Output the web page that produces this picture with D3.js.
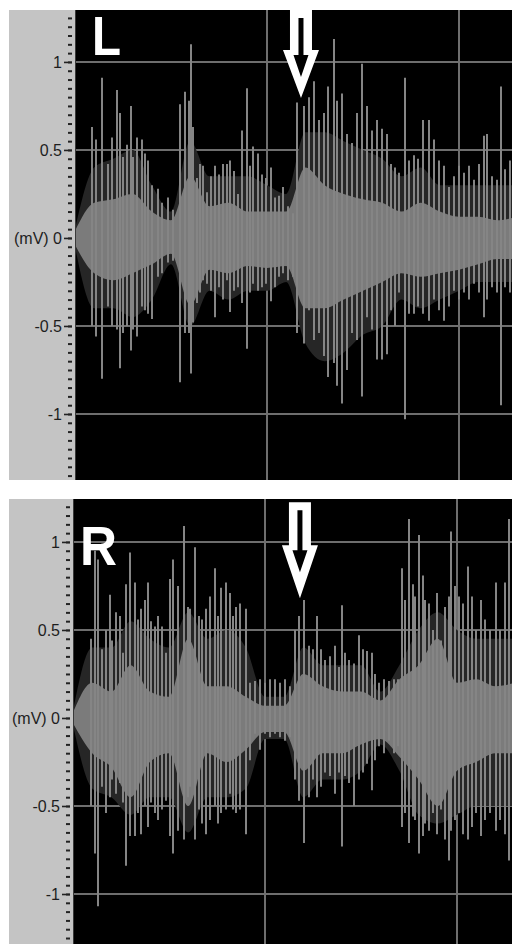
<!DOCTYPE html>
<html>
<head>
<meta charset="utf-8">
<script src="https://cdn.jsdelivr.net/npm/d3@7"></script>
<style>
  html, body { margin: 0; padding: 0; background: #fff; }
  svg { display: block; }
  .tick text { font-family: "Liberation Sans", Arial, sans-serif; font-size: 16px; fill: #1e1e1e; }
</style>
</head>
<body>
<svg width="512" height="944"></svg>
<script>
// ---- tick labels / grid ----
var majorTicks = [-1, -0.5, 0, 0.5, 1];
var gridTimes = [1, 2];
var channelLabels = ["L", "R"];

// envelope sample times (s)
var envTimes = [0, 0.1, 0.2, 0.3, 0.4, 0.5, 0.6, 0.7, 0.8, 0.9, 1.0, 1.1,
  1.2, 1.3, 1.4, 1.5, 1.6, 1.7, 1.8, 1.9, 2.0, 2.1, 2.2, 2.3];

// ---- L channel (mV) ----
var lCoreUp = [0.04, 0.2, 0.22, 0.25, 0.15, 0.1, 0.35, 0.18, 0.2, 0.15, 0.15, 0.15,
  0.4, 0.3, 0.25, 0.22, 0.2, 0.15, 0.2, 0.15, 0.12, 0.12, 0.1, 0.12];
var lCoreLo = [-0.04, -0.2, -0.24, -0.2, -0.15, -0.09, -0.38, -0.18, -0.2, -0.16, -0.17, -0.16,
  -0.4, -0.4, -0.35, -0.3, -0.25, -0.2, -0.22, -0.2, -0.18, -0.15, -0.12, -0.12];
var lOuterUp = [0.05, 0.4, 0.45, 0.5, 0.3, 0.15, 0.55, 0.35, 0.35, 0.35, 0.3, 0.25,
  0.6, 0.6, 0.55, 0.5, 0.45, 0.35, 0.4, 0.3, 0.3, 0.3, 0.3, 0.3];
var lOuterLo = [-0.05, -0.4, -0.4, -0.45, -0.35, -0.15, -0.5, -0.3, -0.35, -0.3, -0.3, -0.25,
  -0.6, -0.7, -0.65, -0.55, -0.5, -0.35, -0.4, -0.35, -0.3, -0.25, -0.25, -0.25];

var lSpikeT = [0.087, 0.108, 0.139, 0.174, 0.191, 0.217, 0.234, 0.252, 0.269, 0.290,
  0.304, 0.321, 0.347, 0.365, 0.382, 0.403, 0.431, 0.455, 0.486, 0.512,
  0.549, 0.573, 0.594, 0.602, 0.616, 0.634, 0.651, 0.668, 0.686, 0.708,
  0.729, 0.750, 0.773, 0.790, 0.807, 0.830, 0.851, 0.872, 0.894, 0.911,
  0.929, 0.951, 0.972, 0.993, 1.021, 1.042, 1.063, 1.085, 1.111, 1.137,
  1.156, 1.191, 1.217, 1.243, 1.269, 1.295, 1.318, 1.347, 1.365, 1.391,
  1.417, 1.443, 1.469, 1.495, 1.521, 1.547, 1.573, 1.599, 1.625, 1.648,
  1.668, 1.686, 1.717, 1.738, 1.764, 1.787, 1.811, 1.842, 1.868, 1.894,
  1.920, 1.946, 1.972, 1.998, 2.024, 2.050, 2.076, 2.102, 2.129, 2.146,
  2.172, 2.198, 2.221, 2.241, 2.267];
var lSpikeUp = [0.63, 0.56, 0.91, 0.42, 0.57, 0.84, 0.71, 0.46, 0.53, 0.75,
  0.46, 0.57, 0.56, 0.48, 0.44, 0.30, 0.28, 0.20, 0.23, 0.16,
  0.76, 0.83, 0.78, 1.10, 0.63, 0.34, 0.42, 0.41, 0.26, 0.35,
  0.41, 0.36, 0.42, 0.42, 0.44, 0.38, 0.25, 0.61, 0.85, 0.41,
  0.52, 0.48, 0.36, 0.34, 0.40, 0.23, 0.24, 0.29, 0.18, 0.14,
  0.77, 0.75, 0.80, 0.89, 0.67, 0.71, 0.86, 1.13, 0.78, 0.82,
  0.59, 0.54, 0.71, 0.99, 0.75, 0.61, 0.67, 0.62, 0.59, 0.42,
  0.40, 0.37, 0.91, 0.44, 0.47, 0.45, 0.67, 0.67, 0.56, 0.44,
  0.41, 0.29, 0.35, 0.41, 0.37, 0.41, 0.33, 0.42, 0.58, 0.59,
  0.35, 0.33, 0.86, 0.39, 0.44];
var lSpikeLo = [-0.50, -0.56, -0.80, -0.39, -0.50, -0.52, -0.74, -0.54, -0.50, -0.64,
  -0.52, -0.56, -0.39, -0.41, -0.43, -0.46, -0.22, -0.20, -0.14, -0.13,
  -0.82, -0.54, -0.54, -0.77, -0.48, -0.37, -0.31, -0.24, -0.26, -0.30,
  -0.45, -0.28, -0.35, -0.24, -0.42, -0.30, -0.28, -0.37, -0.63, -0.31,
  -0.26, -0.30, -0.28, -0.26, -0.36, -0.28, -0.22, -0.20, -0.24, -0.22,
  -0.54, -0.60, -0.41, -0.58, -0.54, -0.67, -0.79, -0.71, -0.84, -0.94,
  -0.75, -0.54, -0.58, -0.90, -0.45, -0.52, -0.69, -0.69, -0.66, -0.41,
  -0.50, -0.31, -1.03, -0.43, -0.43, -0.39, -0.43, -0.47, -0.35, -0.41,
  -0.47, -0.39, -0.30, -0.35, -0.31, -0.35, -0.26, -0.31, -0.45, -0.35,
  -0.28, -0.31, -0.95, -0.28, -0.31];

// ---- R channel (mV) ----
var rCoreUp = [0.03, 0.2, 0.15, 0.3, 0.15, 0.12, 0.45, 0.18, 0.18, 0.12, 0.07, 0.07,
  0.25, 0.18, 0.15, 0.15, 0.1, 0.22, 0.3, 0.45, 0.2, 0.22, 0.18, 0.2];
var rCoreLo = [-0.03, -0.2, -0.28, -0.45, -0.25, -0.2, -0.5, -0.2, -0.25, -0.18, -0.08, -0.08,
  -0.3, -0.2, -0.2, -0.15, -0.12, -0.22, -0.35, -0.5, -0.3, -0.25, -0.2, -0.2];
var rOuterUp = [0.04, 0.4, 0.4, 0.55, 0.45, 0.4, 0.6, 0.45, 0.5, 0.4, 0.12, 0.12,
  0.4, 0.3, 0.3, 0.3, 0.15, 0.3, 0.5, 0.6, 0.5, 0.45, 0.45, 0.45];
var rOuterLo = [-0.04, -0.4, -0.45, -0.55, -0.45, -0.45, -0.65, -0.45, -0.45, -0.4, -0.12, -0.12,
  -0.45, -0.35, -0.35, -0.3, -0.15, -0.3, -0.55, -0.6, -0.55, -0.5, -0.5, -0.5];

var rSpikeT = [0.095, 0.113, 0.130, 0.153, 0.174, 0.191, 0.205, 0.222, 0.243, 0.260,
  0.278, 0.299, 0.321, 0.339, 0.356, 0.373, 0.391, 0.408, 0.425, 0.443,
  0.465, 0.486, 0.503, 0.521, 0.547, 0.576, 0.599, 0.611, 0.634, 0.656,
  0.674, 0.691, 0.712, 0.738, 0.755, 0.773, 0.795, 0.816, 0.833, 0.851,
  0.872, 0.899, 0.920, 0.946, 0.972, 0.998, 1.024, 1.050, 1.076, 1.102,
  1.128,
  1.158, 1.175, 1.201, 1.227, 1.248, 1.271, 1.293, 1.314, 1.340, 1.363,
  1.384, 1.401, 1.418, 1.439, 1.462, 1.488, 1.509, 1.531, 1.557, 1.575,
  1.595, 1.618, 1.644, 1.670, 1.693, 1.713, 1.731, 1.748, 1.769, 1.783,
  1.800, 1.821, 1.835, 1.856, 1.873, 1.896, 1.918, 1.936, 1.957, 1.970,
  1.988, 2.009, 2.029, 2.057, 2.078, 2.099, 2.127, 2.148, 2.174, 2.203,
  2.226, 2.248, 2.272];
var rSpikeUp = [0.45, 0.95, 0.90, 0.39, 0.50, 0.70, 0.44, 0.60, 0.58, 0.37,
  0.76, 0.94, 0.77, 0.56, 0.62, 0.67, 0.77, 0.55, 0.52, 0.58,
  0.52, 0.37, 0.79, 0.90, 0.75, 1.09, 0.63, 0.62, 0.97, 0.58,
  0.56, 0.62, 0.69, 0.85, 0.58, 0.74, 0.77, 0.71, 0.58, 0.63,
  0.65, 0.62, 0.20, 0.21, 0.22, 0.20, 0.22, 0.22, 0.20, 0.22,
  0.18,
  0.50, 0.58, 0.67, 0.41, 0.39, 0.58, 0.39, 0.33, 0.35, 0.41,
  0.29, 0.64, 0.37, 0.33, 0.31, 0.47, 0.39, 0.38, 0.37, 0.25,
  0.20, 0.22, 0.21, 0.22, 0.22, 0.85, 0.67, 1.13, 0.76, 0.69,
  1.04, 0.81, 0.67, 0.65, 0.50, 0.71, 0.44, 0.63, 0.69, 1.06,
  0.75, 0.69, 0.65, 0.86, 0.69, 0.50, 0.67, 0.56, 0.50, 0.77,
  0.50, 0.77, 1.13];
var rSpikeLo = [-0.50, -0.77, -1.07, -0.39, -0.54, -0.45, -0.35, -0.43, -0.37, -0.48,
  -0.84, -0.67, -0.67, -0.54, -0.66, -0.50, -0.62, -0.48, -0.54, -0.58,
  -0.52, -0.47, -0.67, -0.77, -0.64, -0.69, -0.45, -0.39, -0.69, -0.52,
  -0.60, -0.66, -0.58, -0.50, -0.60, -0.54, -0.52, -0.43, -0.52, -0.54,
  -0.52, -0.66, -0.24, -0.09, -0.18, -0.09, -0.11, -0.09, -0.11, -0.13,
  -0.11,
  -0.35, -0.47, -0.71, -0.45, -0.35, -0.45, -0.39, -0.31, -0.33, -0.43,
  -0.31, -0.73, -0.33, -0.37, -0.50, -0.35, -0.31, -0.26, -0.41, -0.24,
  -0.16, -0.20, -0.13, -0.20, -0.16, -0.62, -0.54, -0.71, -0.56, -0.58,
  -0.77, -0.67, -0.60, -0.64, -0.54, -0.66, -0.52, -0.69, -0.81, -0.64,
  -0.58, -0.54, -0.66, -0.69, -0.62, -0.54, -0.67, -0.58, -0.54, -0.64,
  -0.58, -0.66, -0.81];

// arrow markers (time s, value mV)
var arrowT = [1.177, 1.182];
var arrowV = [0.795, 0.68];

// ---- layout ----
var W = 512;
var svg = d3.select("svg");

var panels = [
  { name: channelLabels[0], top: 10, bottom: 480, left: 75, yTop: 1.295, yBottom: -1.375,
    coreUp: lCoreUp, coreLo: lCoreLo, outerUp: lOuterUp, outerLo: lOuterLo,
    spikeT: lSpikeT, spikeUp: lSpikeUp, spikeLo: lSpikeLo,
    arrowT: arrowT[0], arrowV: arrowV[0], arrowLen: 88, arrowHead: 48,
    labelX: 92, labelY: 55, labelLen: 29 },
  { name: channelLabels[1], top: 499, bottom: 944, left: 73, yTop: 1.244, yBottom: -1.284,
    coreUp: rCoreUp, coreLo: rCoreLo, outerUp: rOuterUp, outerLo: rOuterLo,
    spikeT: rSpikeT, spikeUp: rSpikeUp, spikeLo: rSpikeLo,
    arrowT: arrowT[1], arrowV: arrowV[1], arrowLen: 96, arrowHead: 53,
    labelX: 80, labelY: 565, labelLen: 37 }
];

panels.forEach(drawPanel);

function drawPanel(p) {
  var g = svg.append("g");
  var x = d3.scaleLinear().domain([0, 1]).range([p.left, p.left + 192]);
  var y = d3.scaleLinear().domain([p.yBottom, p.yTop]).range([p.bottom, p.top]);

  // gray axis strip + black plot
  g.append("rect")
    .attr("x", 9).attr("y", p.top)
    .attr("width", p.left - 9).attr("height", p.bottom - p.top)
    .attr("fill", "#c4c4c4");
  g.append("rect")
    .attr("x", p.left).attr("y", p.top)
    .attr("width", W - p.left).attr("height", p.bottom - p.top)
    .attr("fill", "#000");

  var clipId = "clip-" + p.name;
  svg.append("clipPath").attr("id", clipId)
    .append("rect")
    .attr("x", p.left).attr("y", p.top)
    .attr("width", W - p.left).attr("height", p.bottom - p.top);
  var plot = g.append("g").attr("clip-path", "url(#" + clipId + ")");

  // grid (under the signal)
  plot.selectAll("line.hgrid")
    .data(majorTicks)
    .enter().append("line")
    .attr("class", "hgrid")
    .attr("x1", p.left).attr("x2", W)
    .attr("y1", function(d) { return Math.round(y(d)); })
    .attr("y2", function(d) { return Math.round(y(d)); })
    .attr("stroke", "#6e6e6e")
    .attr("stroke-width", 2);
  plot.selectAll("line.vgrid")
    .data(gridTimes)
    .enter().append("line")
    .attr("class", "vgrid")
    .attr("x1", function(d) { return Math.round(x(d)); })
    .attr("x2", function(d) { return Math.round(x(d)); })
    .attr("y1", p.top).attr("y2", p.bottom)
    .attr("stroke", "#6e6e6e")
    .attr("stroke-width", 2);

  // dense region and solid core of the signal
  var outerArea = d3.area()
    .x(function(d, i) { return x(envTimes[i]); })
    .y0(function(d, i) { return y(p.outerLo[i]); })
    .y1(function(d) { return y(d); })
    .curve(d3.curveMonotoneX);
  plot.append("path").datum(p.outerUp)
    .attr("d", outerArea)
    .attr("fill", "#262626");

  var coreArea = d3.area()
    .x(function(d, i) { return x(envTimes[i]); })
    .y0(function(d, i) { return y(p.coreLo[i]); })
    .y1(function(d) { return y(d); })
    .curve(d3.curveMonotoneX);
  plot.append("path").datum(p.coreUp)
    .attr("d", coreArea)
    .attr("fill", "#7b7b7b");

  // spikes
  plot.selectAll("line.spike")
    .data(p.spikeT)
    .enter().append("line")
    .attr("class", "spike")
    .attr("x1", function(d) { return Math.round(x(d)); })
    .attr("x2", function(d) { return Math.round(x(d)); })
    .attr("y1", function(d, i) { return y(p.spikeLo[i]); })
    .attr("y2", function(d, i) { return y(p.spikeUp[i]); })
    .attr("stroke", "#858585")
    .attr("stroke-width", 2);

  // plot left border
  g.append("line")
    .attr("x1", p.left + 0.5).attr("x2", p.left + 0.5)
    .attr("y1", p.top).attr("y2", p.bottom)
    .attr("stroke", "#3a3a3a");

  // axis: minor dashes every 0.05, major labelled ticks
  var minor = d3.range(-28, 28).map(function(i) { return i * 0.05; })
    .filter(function(v) { return v > p.yBottom + 0.02 && v < p.yTop - 0.02; });
  var minorAxis = g.append("g")
    .attr("transform", "translate(" + (p.left - 3) + ",0)")
    .call(d3.axisLeft(y).tickValues(minor).tickSize(4).tickFormat(""));
  minorAxis.select(".domain").remove();
  minorAxis.selectAll("line").attr("stroke", "#222").attr("stroke-width", 2);

  var majorAxis = g.append("g")
    .attr("transform", "translate(" + (p.left - 3) + ",0)")
    .call(d3.axisLeft(y).tickValues(majorTicks).tickSize(8).tickPadding(2)
      .tickFormat(function(d) { return d === 0 ? "(mV) 0" : String(d); }));
  majorAxis.select(".domain").remove();
  majorAxis.selectAll("line").attr("stroke", "#222").attr("stroke-width", 1.6);

  // channel letter
  g.append("text")
    .attr("x", p.labelX).attr("y", p.labelY)
    .attr("textLength", p.labelLen)
    .attr("lengthAdjust", "spacingAndGlyphs")
    .style("font-family", "'Liberation Sans', Arial, sans-serif")
    .style("font-weight", "bold")
    .style("font-size", "55px")
    .attr("fill", "#fff")
    .text(p.name);

  // hollow arrow pointing at the marked burst
  var tx = x(p.arrowT), ty = y(p.arrowV);
  var L = p.arrowLen, H = p.arrowHead;
  var outerPts = [[-11, -L], [11, -L], [11, -H], [18, -H], [0, 0], [-18, -H], [-11, -H]];
  var innerPts = [[-2.5, -(L - 8)], [2.5, -(L - 8)], [2.5, -(H - 5)], [7.5, -(H - 5)],
    [0, -(H - 27)], [-7.5, -(H - 5)], [-2.5, -(H - 5)]];
  var arrow = plot.append("g").attr("transform", "translate(" + tx + "," + ty + ")");
  arrow.append("path").attr("d", d3.line()(outerPts) + "Z").attr("fill", "#fff");
  arrow.append("path").attr("d", d3.line()(innerPts) + "Z").attr("fill", "#000");
}
</script>
</body>
</html>
